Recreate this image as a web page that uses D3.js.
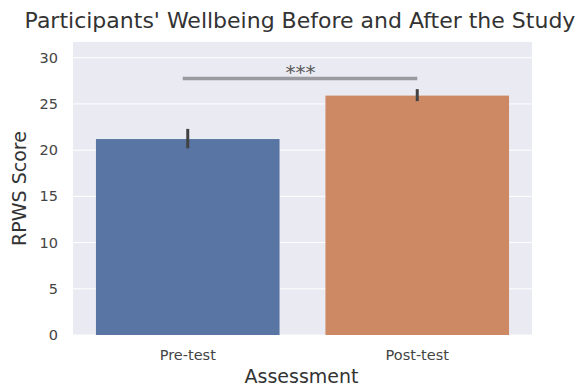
<!DOCTYPE html>
<html>
<head>
<meta charset="utf-8">
<script src="https://cdn.jsdelivr.net/npm/d3@7"></script>
<style>
  html, body { margin: 0; padding: 0; background: #fff; }
  svg { display: block; font-family: "DejaVu Sans", sans-serif; }
</style>
</head>
<body>
<svg id="chart" width="583" height="386"></svg>
<script>
// Wellbeing scores: group means with 95% CI bounds
const categories = ["Pre-test", "Post-test"];
const means = [21.2, 25.9];
const ciLow = [20.2, 25.3];
const ciHigh = [22.3, 26.6];
const yTicks = [0, 5, 10, 15, 20, 25, 30];
const barColors = ["#5875a4", "#cc8963"];
const sigLevel = 27.75;
const sigLabel = "***";

const svg = d3.select("#chart");
const margin = { top: 42, right: 51, bottom: 51, left: 73 };
const W = 583, H = 386;
const iw = W - margin.left - margin.right;
const ih = H - margin.top - margin.bottom;

const g = svg.append("g").attr("transform", `translate(${margin.left},${margin.top})`);

const x = d3.scaleBand().domain(categories).range([0, iw]).paddingInner(0.2).paddingOuter(0.1);
const y = d3.scaleLinear().domain([0, 31.7]).range([ih, 0]);
const cx = d => x(d) + x.bandwidth() / 2;

// Plot background
g.append("rect").attr("width", iw).attr("height", ih).attr("fill", "#eaeaf2");

// Horizontal grid lines
g.append("g").selectAll("line").data(yTicks).join("line")
  .attr("x1", 0).attr("x2", iw)
  .attr("y1", d => y(d)).attr("y2", d => y(d))
  .attr("stroke", "#fff").attr("stroke-width", 1);

// Bars
g.append("g").selectAll("rect").data(categories).join("rect")
  .attr("x", d => x(d))
  .attr("width", x.bandwidth())
  .attr("y", (d, i) => y(means[i]))
  .attr("height", (d, i) => ih - y(means[i]))
  .attr("fill", (d, i) => barColors[i]);

// Error bars
g.append("g").selectAll("line").data(categories).join("line")
  .attr("x1", d => cx(d)).attr("x2", d => cx(d))
  .attr("y1", (d, i) => y(ciLow[i])).attr("y2", (d, i) => y(ciHigh[i]))
  .attr("stroke", "#424242").attr("stroke-width", 3);

// Significance bracket
g.append("line")
  .attr("x1", cx(categories[0]) - 5).attr("x2", cx(categories[1]))
  .attr("y1", y(sigLevel)).attr("y2", y(sigLevel))
  .attr("stroke", "#9a9aa0").attr("stroke-width", 3.5);
g.append("text")
  .attr("x", (cx(categories[0]) + cx(categories[1])) / 2 - 2)
  .attr("y", y(sigLevel) + 0.5)
  .attr("text-anchor", "middle")
  .attr("fill", "#5a5a5a")
  .attr("font-size", 20)
  .text(sigLabel);

// Axes
const yAxis = d3.axisLeft(y).tickValues(yTicks).tickSize(0).tickPadding(15);
const xAxis = d3.axisBottom(x).tickSize(0).tickPadding(15);
const ya = g.append("g").call(yAxis);
const xa = g.append("g").attr("transform", `translate(0,${ih})`).call(xAxis);
[ya, xa].forEach(a => {
  a.select(".domain").remove();
  a.selectAll("text").attr("font-size", 14.5).attr("fill", "#444").attr("font-family", "DejaVu Sans, sans-serif");
});

// Axis titles
svg.append("text")
  .attr("x", margin.left + iw / 2 - 1).attr("y", 383)
  .attr("text-anchor", "middle").attr("fill", "#333").attr("font-size", 19)
  .text("Assessment");
svg.append("text")
  .attr("transform", `translate(26,${margin.top + ih / 2}) rotate(-90)`)
  .attr("text-anchor", "middle").attr("fill", "#333").attr("font-size", 19)
  .text("RPWS Score");

// Title
svg.append("text")
  .attr("x", 300).attr("y", 28)
  .attr("text-anchor", "middle").attr("fill", "#333").attr("font-size", 22)
  .text("Participants' Wellbeing Before and After the Study");
</script>
</body>
</html>
